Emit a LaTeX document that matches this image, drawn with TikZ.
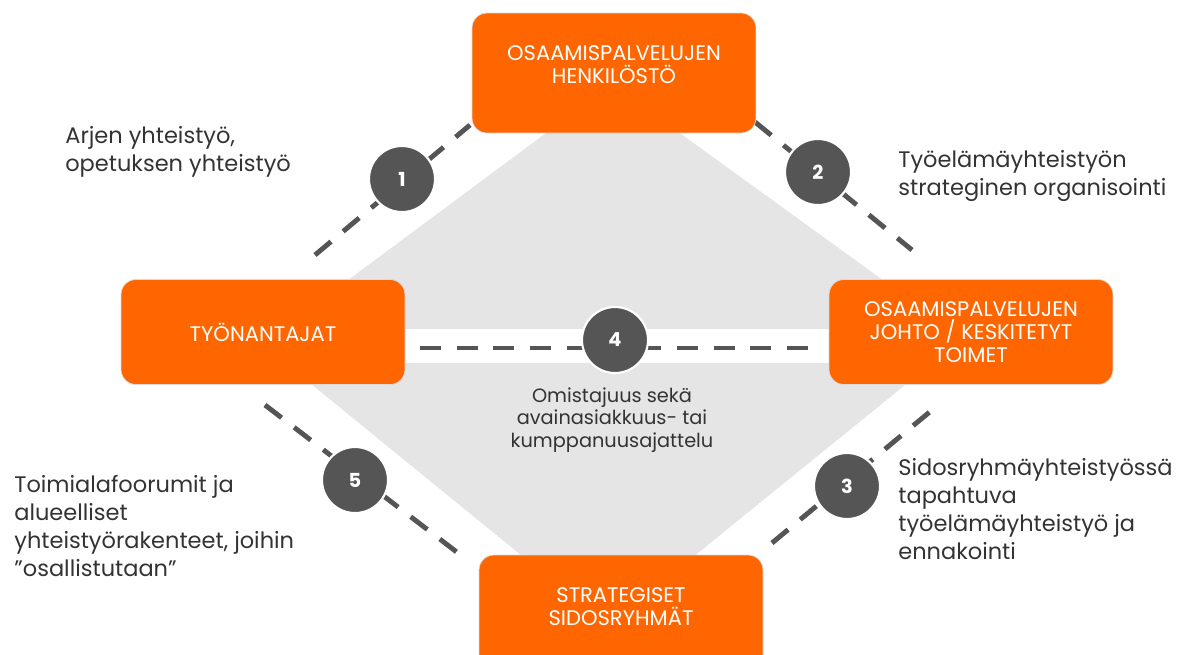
\documentclass[tikz,border=0pt]{standalone}
\usepackage{fontspec}
\setmainfont{Poppins}
\definecolor{boxorange}{HTML}{FF6600}
\definecolor{numgrey}{HTML}{555555}
\definecolor{textgrey}{HTML}{333333}
\definecolor{diamondgrey}{HTML}{E5E5E5}
\tikzset{
	box node/.style={rectangle, rounded corners=0.3cm, draw=black!15, fill=boxorange, text=white, align=center, minimum width=5.68cm, minimum height=2.1cm, font=\fontsize{12}{13}\selectfont},
	tall box node/.style={box node, minimum height=2.4cm, text depth=0.34cm},
	num node/.style={circle, draw=white, line width=1.2pt, fill=numgrey, text=white, minimum size=1.32cm, inner sep=0, font=\fontsize{11}{12}\selectfont\bfseries},
	dashed link/.style={numgrey, line width=2.8pt, dash pattern=on 11.9pt off 9pt},
	note/.style={align=left, text=textgrey, inner sep=0, font=\fontsize{12.8}{16}\selectfont},
	small note/.style={align=center, text=textgrey, inner sep=0, font=\fontsize{11}{12.8}\selectfont},
}
\begin{document}
\begin{tikzpicture}[x=0.02cm, y=-0.02cm]
\useasboundingbox (0,0) rectangle (1183,654);
\clip (0,0) rectangle (1183,654);

\fill[diamondgrey] (612,84) -- (963,338) -- (608,626) -- (262,344) -- cycle;
\fill[white] (300,329) rectangle (930,363);

\coordinate (a1) at (315,255);
\coordinate (b1) at (470,125);
\coordinate (a2) at (755,122);
\coordinate (b2) at (912,250);
\coordinate (a3) at (772,543);
\coordinate (b3) at (932,410);
\coordinate (a4) at (420,348);
\coordinate (b4) at (815,348);
\coordinate (a5) at (265,405);
\coordinate (b5) at (458,553);

\draw[dashed link] (a1) -- (b1);
\draw[dashed link] (a2) -- (b2);
\draw[dashed link] (a3) -- (b3);
\draw[dashed link] (a4) -- (b4);
\draw[dashed link] (a5) -- (b5);

\node[tall box node] (henkilosto) at (614,73) {OSAAMISPALVELUJEN\\HENKILÖSTÖ};
\node[box node] (tyonantajat) at (263,332) {TYÖNANTAJAT};
\node[box node] (johto) at (971,332) {OSAAMISPALVELUJEN\\JOHTO / KESKITETYT\\TOIMET};
\node[tall box node] (sidosryhmat) at (621,615) {STRATEGISET\\SIDOSRYHMÄT};

\node[num node] (n1) at (402,179) {1};
\node[num node] (n2) at (818,172) {2};
\node[num node] (n3) at (847,486) {3};
\node[num node] (n4) at (615,340) {4};
\node[num node] (n5) at (355,480) {5};

\node[note, anchor=north west] (arjen) at (65,126) {Arjen yhteistyö,\\opetuksen yhteistyö};
\node[note, anchor=north west] (strateginen) at (898,150) {Työelämäyhteistyön\\strateginen organisointi};
\node[note, anchor=north west] (ennakointi) at (898,458) {Sidosryhmäyhteistyössä\\tapahtuva\\työelämäyhteistyö ja\\ennakointi};
\node[note, anchor=north west] (foorumit) at (14,475) {Toimialafoorumit ja\\alueelliset\\yhteistyörakenteet, joihin\\”osallistutaan”};
\node[small note, anchor=north] (omistajuus) at (612,387) {Omistajuus sekä\\avainasiakkuus- tai\\kumppanuusajattelu};
\end{tikzpicture}
\end{document}
